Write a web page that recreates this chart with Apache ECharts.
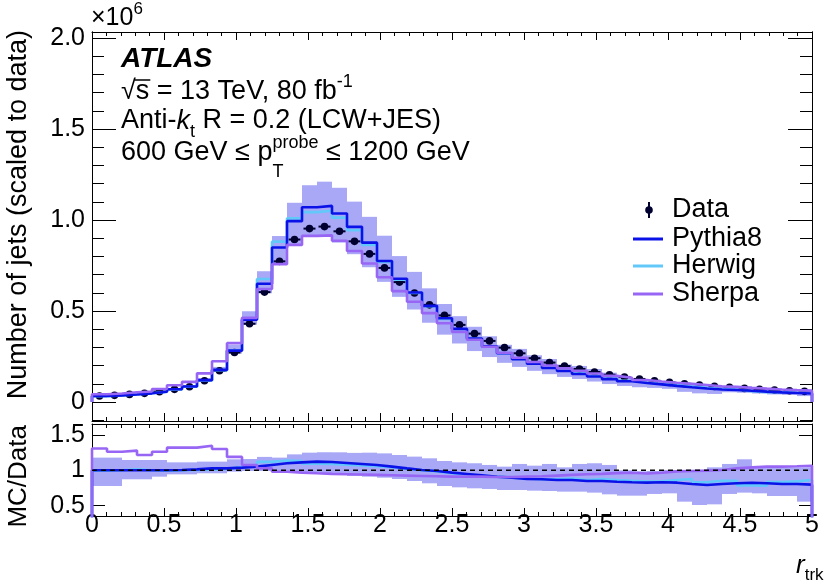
<!DOCTYPE html>
<html><head><meta charset="utf-8">
<script src="https://cdn.jsdelivr.net/npm/echarts@6/dist/echarts.min.js"></script>
<style>html,body{margin:0;padding:0;background:#fff}#c{width:830px;height:588px}</style>
</head><body><div id="c"></div>
<script>
// ---------------- data ----------------
const X_MIN = 0, X_MAX = 5, N_BINS = 48;           // 48 equal bins over r_trk 0..5
const xTickLabels = ['0','0.5','1','1.5','2','2.5','3','3.5','4','4.5','5'];
const yTopTickValues = [0, 0.5, 1.0, 1.5, 2.0];
const yTopTickLabels = ['0','0.5','1.0','1.5','2.0'];
const yRatioTickValues = [0.5, 1, 1.5];
const yRatioTickLabels = ['0.5','1','1.5'];

// Data, number of jets (x10^6)
const dataVals = [0.033,0.037,0.042,0.048,0.057,0.070,0.084,0.117,0.172,0.272,
                  0.430,0.604,0.773,0.893,0.953,0.964,0.938,0.883,0.814,0.737,
                  0.659,0.599,0.534,0.476,0.424,0.376,0.336,0.299,0.268,0.241,
                  0.217,0.198,0.182,0.165,0.150,0.138,0.127,0.117,0.108,0.101,
                  0.094,0.086,0.081,0.075,0.070,0.066,0.062,0.059];
// MC / Data ratios
const pythiaRatio = [1.0,1.0,1.0,1.0,1.0,1.005,1.014,1.028,1.028,1.038,
                     1.052,1.076,1.099,1.113,1.123,1.118,1.104,1.09,1.076,1.052,
                     1.028,1.005,0.99,0.967,0.948,0.929,0.91,0.896,0.877,0.873,
                     0.863,0.863,0.849,0.849,0.839,0.83,0.825,0.83,0.825,0.806,
                     0.792,0.806,0.816,0.825,0.816,0.806,0.806,0.797];
const herwigRatio = [0.995,1.0,1.014,1.0,0.995,1.0,1.005,1.01,1.02,1.045,
                     1.06,1.12,1.14,1.13,1.095,1.09,1.08,1.07,1.06,1.045,
                     1.02,1.0,0.985,0.96,0.94,0.925,0.91,0.9,0.885,0.875,
                     0.873,0.882,0.863,0.877,0.863,0.85,0.84,0.845,0.863,0.877,
                     0.83,0.853,0.85,0.787,0.783,0.835,0.844,0.863];
const sherpaRatio = [1.31,1.264,1.279,1.217,1.264,1.321,1.321,1.349,1.302,1.19,
                     1.076,1.028,0.98,0.967,0.958,0.95,0.945,0.94,0.935,0.93,
                     0.925,0.92,0.915,0.91,0.91,0.91,0.905,0.905,0.91,0.915,
                     0.925,0.935,0.945,0.95,0.96,0.965,0.955,0.965,0.985,0.99,
                     0.995,1.005,1.028,1.042,1.052,1.052,1.058,1.065];
// Uncertainty band (relative to data)
const bandHi = [1.18,1.18,1.146,1.146,1.146,1.113,1.113,1.123,1.123,1.156,
                1.16,1.19,1.18,1.226,1.25,1.256,1.255,1.247,1.25,1.24,
                1.217,1.194,1.17,1.132,1.113,1.10,1.076,1.052,1.09,1.066,
                1.09,1.042,1.09,1.10,1.076,1.0,0.986,0.99,1.005,1.005,
                0.976,1.042,1.09,1.156,1.061,1.061,1.042,1.042];
const bandLo = [0.778,0.778,0.873,0.873,0.91,0.943,0.943,0.958,0.958,0.981,
                0.99,0.99,0.981,0.967,0.958,0.948,0.934,0.92,0.91,0.896,
                0.877,0.849,0.816,0.778,0.759,0.745,0.736,0.721,0.721,0.712,
                0.707,0.698,0.698,0.684,0.66,0.641,0.641,0.665,0.674,0.556,
                0.509,0.518,0.665,0.684,0.674,0.636,0.636,0.556];

// ---------------- styling ----------------
const FONT = "'Liberation Sans', Arial, Helvetica, sans-serif";
const C_PYTHIA = '#0a12e8', C_HERWIG = '#62c8fa', C_SHERPA = '#9866f4';
const C_BAND = '#a8a8f7', C_DATA = '#000030';

const binW = (X_MAX - X_MIN) / N_BINS;
const edges = Array.from({length: N_BINS + 1}, (_, i) => X_MIN + i * binW);

function stepPoints(vals) {
  const pts = [[edges[0], 0]];
  vals.forEach((v, k) => { pts.push([edges[k], v]); pts.push([edges[k + 1], v]); });
  pts.push([edges[N_BINS], 0]);
  return pts;
}
const pythiaTop = dataVals.map((d, k) => d * pythiaRatio[k]);
const herwigTop = dataVals.map((d, k) => d * herwigRatio[k]);
const sherpaTop = dataVals.map((d, k) => d * sherpaRatio[k]);

function renderBand(params, api) {
  const x0 = api.value(0), x1 = api.value(1), lo = api.value(2), hi = api.value(3);
  const p0 = api.coord([x0, hi]), p1 = api.coord([x1, lo]);
  const cs = params.coordSys;
  const shape = echarts.graphic.clipRectByRect(
    {x: p0[0], y: p0[1], width: p1[0] - p0[0], height: p1[1] - p0[1]},
    {x: cs.x, y: cs.y, width: cs.width, height: cs.height});
  return shape && {type: 'rect', shape: shape, style: {fill: C_BAND}};
}
function renderData(params, api) {
  const x0 = api.value(0), x1 = api.value(1), y = api.value(2);
  const p0 = api.coord([x0, y]), p1 = api.coord([x1, y]);
  return {type: 'group', children: [
    {type: 'line', shape: {x1: p0[0] + 1.5, y1: p0[1], x2: p1[0] - 1.5, y2: p1[1]}, style: {stroke: C_DATA, lineWidth: 2}},
    {type: 'circle', shape: {cx: (p0[0] + p1[0]) / 2, cy: p0[1], r: 3.8}, style: {fill: C_DATA}}
  ]};
}

function xAx(grid, pos, showLabels) {
  return {type: 'value', gridIndex: grid, min: X_MIN, max: X_MAX, interval: 0.5, position: pos,
    axisLine: {show: true, onZero: false, lineStyle: {color: '#000', width: 1}},
    axisTick: {show: true, inside: true, length: 8, lineStyle: {color: '#000', width: 1}},
    minorTick: {show: true, splitNumber: 5, length: 4, lineStyle: {color: '#000', width: 1}},
    axisLabel: {show: showLabels, fontSize: 25, fontFamily: FONT, color: '#000', margin: -3,
      formatter: v => xTickLabels[Math.round((v - X_MIN) / 0.5)]},
    splitLine: {show: false}, minorSplitLine: {show: false}};
}
function yAx(grid, pos, min, max, ticks, len, labels) {
  return {type: 'value', gridIndex: grid, min: min, max: max, position: pos,
    axisLine: {show: true, onZero: false, lineStyle: {color: '#000', width: 1}},
    axisTick: {show: true, inside: true, length: len, customValues: ticks, lineStyle: {color: '#000', width: 1}},
    axisLabel: labels ? {show: true, customValues: labels.values, fontSize: 25, fontFamily: FONT, color: '#000', margin: 7,
      formatter: v => labels.text[labels.values.findIndex(t => Math.abs(t - v) < 1e-6)]} : {show: false},
    splitLine: {show: false}};
}
const topMinor = [];
for (let i = -1; i <= 20; i++) if (i % 5 !== 0) topMinor.push(i / 10);
const Y_TOP_MIN = -0.104, Y_TOP_MAX = 2.033, Y_R_MIN = 0.353, Y_R_MAX = 1.656;

// ---------------- text helpers ----------------
const mctx = document.createElement('canvas').getContext('2d');
function fontStr(p) { return (p.italic ? 'italic ' : '') + (p.bold ? 'bold ' : '') + p.size + 'px ' + FONT; }
function texRun(x, y, pieces) {
  const out = []; let cx = x;
  pieces.forEach(p => {
    const f = fontStr(p); mctx.font = f;
    const w = mctx.measureText(p.t).width;
    cx += (p.dx || 0);
    out.push({type: 'text', x: cx, y: y + (p.dy || 0), silent: true,
      style: {text: p.t, font: f, fill: '#000', align: 'left', verticalAlign: 'middle'}});
    cx += w;
  });
  return out;
}
const S = 27, SS = 18;
let graphics = [];
graphics = graphics.concat(texRun(91, 18, [{t: '\u00d710', size: 25}, {t: '6', size: 17, dy: -9}]));
graphics = graphics.concat(texRun(121, 59, [{t: 'ATLAS', size: 28, bold: true, italic: true}]));
graphics = graphics.concat(texRun(121, 92, [{t: '\u221a', size: S}, {t: 's = 13 TeV, 80 fb', size: S}, {t: '-1', size: SS, dy: -10}]));
graphics = graphics.concat(texRun(121, 121, [{t: 'Anti-', size: S}, {t: 'k', size: S, italic: true}, {t: 't', size: SS, dy: 11},
  {t: ' R = 0.2 (LCW+JES)', size: S}]));
graphics = graphics.concat(texRun(121, 153, [{t: '600 GeV \u2264 p', size: S}, {t: 'probe', size: SS, dy: -10},
  {t: ' \u2264 1200 GeV', size: S}]));
(function () {
  mctx.font = fontStr({size: S}); const w = mctx.measureText('600 GeV \u2264 p').width;
  graphics.push({type: 'text', x: 121 + w, y: 172, silent: true,
    style: {text: 'T', font: fontStr({size: SS}), fill: '#000', align: 'left', verticalAlign: 'middle'}});
  mctx.font = fontStr({size: S}); const wr = mctx.measureText('\u221a').width, ws = mctx.measureText('s').width;
  graphics.push({type: 'line', silent: true, shape: {x1: 121 + wr - 1, y1: 80, x2: 121 + wr + ws + 1, y2: 80}, style: {stroke: '#000', lineWidth: 1.5}});
})();
// legend
const LX = 633, LX2 = 663, LT = 672;
graphics.push({type: 'circle', silent: true, shape: {cx: 649, cy: 210, r: 3.8}, style: {fill: C_DATA}});
graphics.push({type: 'line', silent: true, shape: {x1: 649, y1: 202, x2: 649, y2: 218}, style: {stroke: C_DATA, lineWidth: 2}});
graphics = graphics.concat(texRun(LT, 210, [{t: 'Data', size: S}]));
[[C_PYTHIA, 'Pythia8', 239], [C_HERWIG, 'Herwig', 266], [C_SHERPA, 'Sherpa', 294]].forEach(([c, t, y]) => {
  graphics.push({type: 'line', silent: true, shape: {x1: LX, y1: y, x2: LX2, y2: y}, style: {stroke: c, lineWidth: 3}});
  graphics = graphics.concat(texRun(LT, y, [{t: t, size: S}]));
});
// axis titles
graphics.push({type: 'text', x: 19, y: 30, rotation: Math.PI / 2, silent: true,
  style: {text: 'Number of jets (scaled to data)', font: fontStr({size: 27}), fill: '#000', align: 'right', verticalAlign: 'middle'}});
graphics.push({type: 'text', x: 19, y: 425, rotation: Math.PI / 2, silent: true,
  style: {text: 'MC/Data', font: fontStr({size: 26}), fill: '#000', align: 'right', verticalAlign: 'middle'}});
graphics = graphics.concat(texRun(796, 566, [{t: 'r', size: 26, italic: true}, {t: 'trk', size: 17, dy: 9}]));

// ---------------- chart ----------------
const chart = echarts.init(document.getElementById('c'), null, {renderer: 'canvas', width: 830, height: 588});
const lineSeries = (name, vals, color, xi, yi) => ({name: name, type: 'line', xAxisIndex: xi, yAxisIndex: yi,
  data: stepPoints(vals), symbol: 'none', lineStyle: {color: color, width: 2.6}, clip: true, silent: true});

chart.setOption({
  animation: false,
  backgroundColor: '#fff',
  grid: [{left: 92, top: 32, width: 720, height: 389}, {left: 92, top: 424, width: 720, height: 92}],
  xAxis: [xAx(0, 'bottom', false), xAx(0, 'top', false), xAx(1, 'bottom', true), xAx(1, 'top', false)],
  yAxis: [
    yAx(0, 'left', Y_TOP_MIN, Y_TOP_MAX, yTopTickValues, 24, {values: yTopTickValues, text: yTopTickLabels}),
    yAx(0, 'left', Y_TOP_MIN, Y_TOP_MAX, topMinor, 12, null),
    yAx(0, 'right', Y_TOP_MIN, Y_TOP_MAX, yTopTickValues, 24, null),
    yAx(0, 'right', Y_TOP_MIN, Y_TOP_MAX, topMinor, 12, null),
    yAx(1, 'left', Y_R_MIN, Y_R_MAX, yRatioTickValues, 13, {values: yRatioTickValues, text: yRatioTickLabels}),
    yAx(1, 'right', Y_R_MIN, Y_R_MAX, yRatioTickValues, 13, null)
  ],
  series: [
    {type: 'custom', xAxisIndex: 0, yAxisIndex: 0, renderItem: renderBand, silent: true,
      encode: {x: [0, 1], y: [2, 3]},
      data: dataVals.map((d, k) => [edges[k], edges[k + 1], d * bandLo[k], d * bandHi[k]])},
    {type: 'custom', xAxisIndex: 2, yAxisIndex: 4, renderItem: renderBand, silent: true,
      encode: {x: [0, 1], y: [2, 3]},
      data: bandLo.map((lo, k) => [edges[k], edges[k + 1], lo, bandHi[k]])},
    lineSeries('Herwig', herwigTop, C_HERWIG, 0, 0),
    lineSeries('Pythia8', pythiaTop, C_PYTHIA, 0, 0),
    lineSeries('Sherpa', sherpaTop, C_SHERPA, 0, 0),
    lineSeries('HerwigR', herwigRatio, C_HERWIG, 2, 4),
    lineSeries('PythiaR', pythiaRatio, C_PYTHIA, 2, 4),
    lineSeries('SherpaR', sherpaRatio, C_SHERPA, 2, 4),
    {type: 'line', xAxisIndex: 2, yAxisIndex: 4, data: [[X_MIN, 1], [X_MAX, 1]], symbol: 'none', silent: true,
      lineStyle: {color: '#000', width: 1.5, type: [5, 4]}},
    {type: 'custom', xAxisIndex: 0, yAxisIndex: 0, renderItem: renderData, silent: true,
      encode: {x: [0, 1], y: 2},
      data: dataVals.map((d, k) => [edges[k], edges[k + 1], d])}
  ],
  graphic: graphics
});
</script></body></html>
